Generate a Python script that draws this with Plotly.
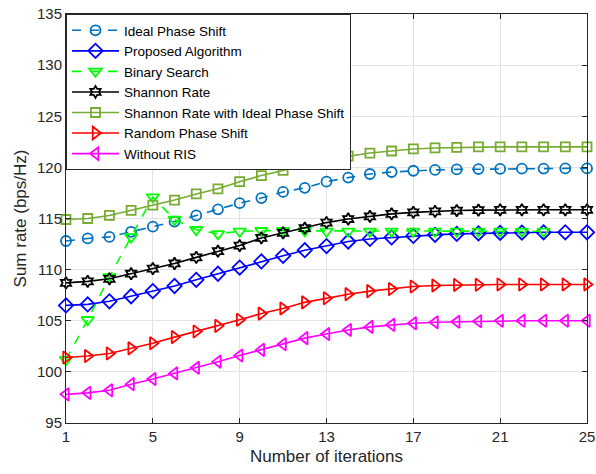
import plotly.graph_objects as go

iterations = list(range(1, 26))

ideal_phase_shift = [112.8, 113.05, 113.2, 113.7, 114.2, 114.7, 115.3, 115.9, 116.5, 117.0,
                     117.6, 118.0, 118.6, 119.0, 119.35, 119.55, 119.67, 119.75, 119.8, 119.83,
                     119.85, 119.87, 119.88, 119.9, 119.9]
proposed_algorithm = [106.5, 106.6, 106.9, 107.4, 107.9, 108.4, 109.0, 109.6, 110.2, 110.8,
                      111.35, 111.9, 112.3, 112.75, 113.0, 113.15, 113.3, 113.4, 113.5, 113.55,
                      113.6, 113.62, 113.65, 113.65, 113.65]
binary_search = [101.2, 105.1, 109.3, 113.2, 117.1, 114.9, 113.9, 113.5, 113.75, 113.8,
                 113.8, 113.8, 113.75, 113.75, 113.75, 113.75, 113.75, 113.75, 113.75, 113.75,
                 113.75, 113.75, 113.75]
shannon_rate = [108.7, 108.85, 109.1, 109.6, 110.1, 110.6, 111.2, 111.8, 112.35, 113.1,
                113.6, 114.05, 114.6, 114.95, 115.2, 115.45, 115.6, 115.7, 115.78, 115.82,
                115.85, 115.85, 115.85, 115.85, 115.85]
shannon_ideal = [114.9, 115.0, 115.3, 115.8, 116.3, 116.8, 117.4, 117.9, 118.6, 119.2,
                 119.7, 120.35, 120.75, 121.1, 121.4, 121.6, 121.8, 121.9, 121.95, 122.0,
                 122.0, 122.0, 122.0, 122.0, 122.0]
random_phase_shift = [101.4, 101.55, 101.8, 102.3, 102.8, 103.4, 103.95, 104.5, 105.1, 105.7,
                      106.2, 106.8, 107.2, 107.6, 107.9, 108.1, 108.35, 108.45, 108.5, 108.52,
                      108.55, 108.55, 108.55, 108.55, 108.55]
without_ris = [97.8, 97.95, 98.2, 98.8, 99.3, 99.85, 100.4, 101.0, 101.6, 102.15,
               102.7, 103.3, 103.7, 104.1, 104.4, 104.6, 104.75, 104.85, 104.9, 104.95,
               105.0, 105.0, 105.0, 105.0, 105.0]

x_ticks = [1, 5, 9, 13, 17, 21, 25]
y_ticks = [95, 100, 105, 110, 115, 120, 125, 130, 135]

series = [
    ("Ideal Phase Shift", ideal_phase_shift, "#0072BD", "dash", "circle-open", 10),
    ("Proposed Algorithm", proposed_algorithm, "#0000FF", "solid", "diamond-open", 11),
    ("Binary Search", binary_search, "#00FF00", "dash", "triangle-down-open", 11),
    ("Shannon Rate", shannon_rate, "#000000", "solid", "hexagram-open", 9),
    ("Shannon Rate with Ideal Phase Shift", shannon_ideal, "#77AC30", "solid", "square-open", 9),
    ("Random Phase Shift", random_phase_shift, "#FF0000", "solid", "triangle-right-open", 11),
    ("Without RIS", without_ris, "#FF00FF", "solid", "triangle-left-open", 11),
]

fig = go.Figure()
for name, vals, color, dash, sym, msize in series:
    fig.add_trace(go.Scatter(
        x=iterations[:len(vals)], y=vals, name=name, mode="lines+markers",
        line=dict(color=color, width=1.6, dash=dash),
        marker=dict(symbol=sym, size=msize, color=color, line=dict(width=1.8, color=color)),
        cliponaxis=False,
    ))

axis_common = dict(
    showline=True, linecolor="#262626", linewidth=1, mirror="ticks",
    ticks="inside", ticklen=5, tickcolor="#262626",
    showgrid=True, gridcolor="#E3E3E3", gridwidth=1, zeroline=False,
    tickfont=dict(size=15, color="#262626"), automargin=False,
)

fig.update_layout(
    width=596, height=474,
    margin=dict(l=66, r=9, t=14, b=51),
    paper_bgcolor="white", plot_bgcolor="white",
    font=dict(family="Liberation Sans, Arial, sans-serif", color="#262626"),
    xaxis=dict(range=[1, 25], tickvals=x_ticks,
               title=dict(text="Number of iterations", font=dict(size=17), standoff=6),
               **axis_common),
    yaxis=dict(range=[95, 135], tickvals=y_ticks,
               title=dict(text="Sum rate (bps/Hz)", font=dict(size=17), standoff=6),
               **axis_common),
    legend=dict(x=0, y=1, xanchor="left", yanchor="top",
                bgcolor="white", bordercolor="#262626", borderwidth=1,
                font=dict(size=13.5, color="#000000"), tracegroupgap=0,
                itemwidth=47),
    showlegend=True,
)

fig.write_html("out.html", config={"displayModeBar": False},
               post_script="document.body.style.margin='0px';document.body.style.overflow='hidden';")
